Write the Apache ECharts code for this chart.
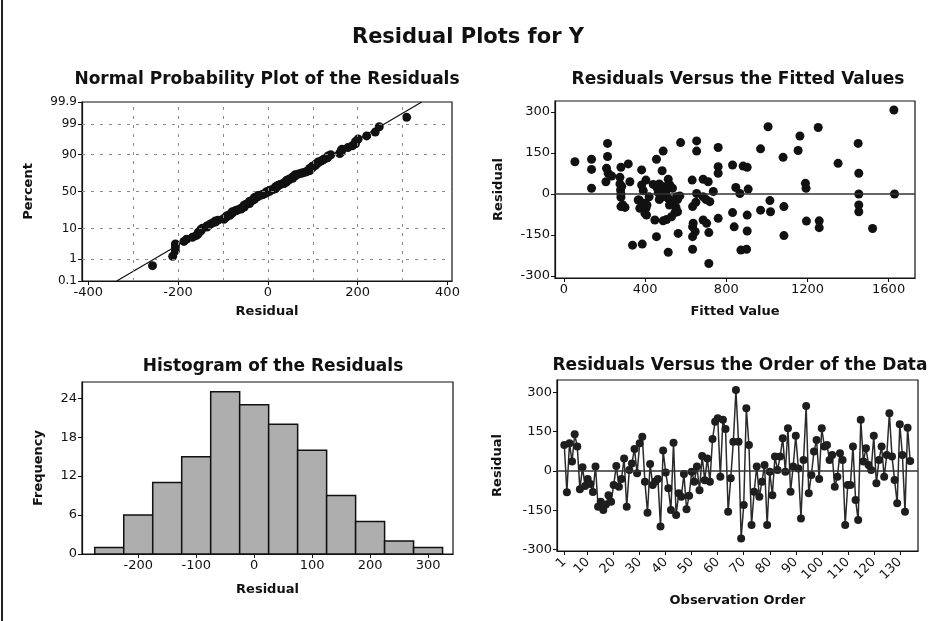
<!DOCTYPE html>
<html>
<head>
<meta charset="utf-8">
<script src="https://cdn.jsdelivr.net/npm/echarts@6/dist/echarts.min.js"></script>
<style>
html,body{margin:0;padding:0;background:#fff;}
#chart{width:928px;height:621px;}
</style>
</head>
<body>
<div id="chart"></div>
<script>
// ---------------- DATA ----------------
const orderResiduals = [
  99, -81, 106, 36, 140, 93, -70, 14, -57, -30,
  -50, -80, 17, -136, -117, -149, -128, -92, -117, -53,
  19, -60, -30, 48, -136, 4, 29, 84, -9, 106,
  131, -41, -159, 27, -53, -40, -30, -212, 78, -6,
  -66, -149, 108, -168, -85, -98, -11, -146, -94, -3,
  -41, 17, -73, 57, -35, 48, -41, 122, 188, 201,
  -22, 195, 160, -155, -28, 112, 309, 112, -257, -130,
  239, 99, -206, -79, 17, -98, -41, 23, -206, -3,
  -92, 55, 4, 55, 125, -3, 163, -79, 17, 134,
  10, -181, 42, 248, -85, -15, 74, 118, -30, 163,
  93, 99, 42, 61, -60, -22, 68, 42, -206, -53,
  -53, 93, -111, -187, 195, 36, 87, 23, 4, 134,
  -47, 42, 93, -22, 61, 220, 55, -34, -123, 178,
  61, -155, 165, 38
];
const fittedValues = [
  54,136,136,136,215,215,210,218,207,235,
  281,317,325,276,276,279,281,281,301,290,
  338,383,404,383,391,371,396,404,407,386,
  456,489,484,514,470,460,473,493,465,506,
  522,535,486,514,555,571,539,552,547,530,
  506,489,560,456,514,563,575,654,654,632,
  686,711,654,686,719,736,634,637,634,647,
  634,634,686,703,714,714,760,760,760,760,
  831,847,831,839,867,872,883,903,908,903,
  903,900,969,969,1006,1015,1018,1080,1084,1084,
  1154,1163,1190,1193,1195,1253,1258,1258,1351,1450,
  1453,1453,1453,1453,1521,1626,1629,
  448,366,374,399,281,285,470,500,520,560,420,440,650,700,409
];
const fittedResiduals = [
  118,127,90,21,185,137,94,76,45,66,
  98,110,45,61,37,15,-12,-46,-49,-40,
  -187,88,51,33,12,-22,-34,-52,-77,-183,
  127,157,85,54,37,21,15,27,5,15,
  33,21,-10,-16,-10,-7,-28,-49,-68,-83,
  -93,-98,-65,-156,-213,-144,188,194,157,51,
  54,45,2,-10,-28,9,-46,-107,-120,-138,
  -156,-202,-95,-107,-141,-254,170,100,76,-89,
  106,24,-68,-120,2,-205,102,98,18,-77,
  -135,-202,165,-59,246,-24,-65,134,-46,-152,
  159,212,39,21,-99,243,-98,-123,112,185,
  76,0,-40,-65,-126,307,0,
  -95,-22,-52,-71,0,28,-20,0,-40,-20,-10,35,-30,-20,-40
];
const binCenters = [-250, -200, -150, -100, -50, 0, 50, 100, 150, 200, 250, 300];
const binCounts  = [1, 6, 11, 15, 25, 23, 20, 16, 9, 5, 2, 1];
const percentTicks = [0.1, 1, 10, 50, 90, 99, 99.9];
const percentGridLines = [1, 10, 50, 90, 99];
const npResidTicks = [-400, -200, 0, 200, 400];
const npResidGridLines = [-300, -200, -100, 0, 100, 200, 300];
const fittedTicks = [0, 400, 800, 1200, 1600];
const residTicks = [-300, -150, 0, 150, 300];
const histResidTicks = [-200, -100, 0, 100, 200, 300];
const freqTicks = [0, 6, 12, 18, 24];
const orderTicks = [1, 10, 20, 30, 40, 50, 60, 70, 80, 90, 100, 110, 120, 130];

// ---------------- HELPERS ----------------
function invNorm(p) {
  const a=[-3.969683028665376e+01,2.209460984245205e+02,-2.759285104469687e+02,1.383577518672690e+02,-3.066479806614716e+01,2.506628277459239e+00];
  const b=[-5.447609879822406e+01,1.615858368580409e+02,-1.556989798598866e+02,6.680131188771972e+01,-1.328068155288572e+01];
  const c=[-7.784894002430293e-03,-3.223964580411365e-01,-2.400758277161838e+00,-2.549732539343734e+00,4.374664141464968e+00,2.938163982698783e+00];
  const d=[7.784695709041462e-03,3.224671290700398e-01,2.445134137142996e+00,3.754408661907416e+00];
  const pl=0.02425, ph=1-pl; let q,r;
  if(p<pl){q=Math.sqrt(-2*Math.log(p));return (((((c[0]*q+c[1])*q+c[2])*q+c[3])*q+c[4])*q+c[5])/((((d[0]*q+d[1])*q+d[2])*q+d[3])*q+1);}
  if(p<=ph){q=p-0.5;r=q*q;return (((((a[0]*r+a[1])*r+a[2])*r+a[3])*r+a[4])*r+a[5])*q/(((((b[0]*r+b[1])*r+b[2])*r+b[3])*r+b[4])*r+1);}
  q=Math.sqrt(-2*Math.log(1-p));return -(((((c[0]*q+c[1])*q+c[2])*q+c[3])*q+c[4])*q+c[5])/((((d[0]*q+d[1])*q+d[2])*q+d[3])*q+1);
}
const n = orderResiduals.length;
const sorted = orderResiduals.slice().sort((x,y)=>x-y);
const npPoints = sorted.map((r,i)=>[r, invNorm((i+1-0.3)/(n+0.4))]);
const mean = orderResiduals.reduce((s,v)=>s+v,0)/n;
const sd = Math.sqrt(orderResiduals.reduce((s,v)=>s+(v-mean)*(v-mean),0)/(n-1));
const zMin = invNorm(percentTicks[0]/100), zMax = invNorm(percentTicks[percentTicks.length-1]/100);
const fitLine = [[mean+sd*zMin, zMin],[mean+sd*zMax, zMax]];
const zTicks = percentTicks.map(p=>invNorm(p/100));
const binWidth = binCenters[1]-binCenters[0];

// ---------------- STYLE ----------------
const FONT = 'Tahoma, "DejaVu Sans", Verdana, sans-serif';
const INK = '#111';
const plain = v => String(v);
const tickLabel = {color: INK, fontFamily: FONT, fontSize: 13, margin: 5, formatter: plain};
const axisName = {color: INK, fontFamily: FONT, fontSize: 13, fontWeight: 'bold'};
const axisLine = {show: true, onZero: false, lineStyle: {color: INK, width: 1.2}};
const axisTick = (vals)=>({show: true, length: 4, customValues: vals, lineStyle: {color: INK}});
const gridBase = {show: true, borderColor: INK, borderWidth: 1.2, backgroundColor: 'transparent'};
const zeroLine = {silent: true, symbol: ['none','none'], label: {show:false},
  lineStyle: {color: '#333', width: 1.5, type: 'solid'}, data: [{yAxis: 0}], animation: false};

const chart = echarts.init(document.getElementById('chart'), null, {renderer: 'canvas'});
const option = {
  animation: false,
  backgroundColor: '#fff',
  textStyle: {fontFamily: FONT},
  title: [
    {text: 'Residual Plots for Y', left: 463, top: 22, textAlign: 'center',
     textStyle: {fontFamily: FONT, fontSize: 21, fontWeight: 'bold', color: INK}},
    {text: 'Normal Probability Plot of the Residuals', left: 262, top: 66, textAlign: 'center',
     textStyle: {fontFamily: FONT, fontSize: 17, fontWeight: 'bold', color: INK}},
    {text: 'Residuals Versus the Fitted Values', left: 733, top: 66, textAlign: 'center',
     textStyle: {fontFamily: FONT, fontSize: 17, fontWeight: 'bold', color: INK}},
    {text: 'Histogram of the Residuals', left: 268, top: 353, textAlign: 'center',
     textStyle: {fontFamily: FONT, fontSize: 17, fontWeight: 'bold', color: INK}},
    {text: 'Residuals Versus the Order of the Data', left: 735, top: 352, textAlign: 'center',
     textStyle: {fontFamily: FONT, fontSize: 17, fontWeight: 'bold', color: INK}}
  ],
  grid: [
    Object.assign({left: 82, top: 102, width: 370, height: 179}, gridBase),
    Object.assign({left: 555, top: 101, width: 360, height: 177}, gridBase),
    Object.assign({left: 82, top: 382, width: 371, height: 172}, gridBase),
    Object.assign({left: 557, top: 380, width: 361, height: 171}, gridBase)
  ],
  xAxis: [
    {gridIndex: 0, type: 'value', min: -414, max: 410, name: 'Residual', nameLocation: 'middle', nameGap: 24,
     nameTextStyle: axisName, axisLine: axisLine, axisTick: axisTick(npResidTicks),
     axisLabel: Object.assign({customValues: npResidTicks}, tickLabel), splitLine: {show: false}},
    {gridIndex: 1, type: 'value', min: -44, max: 1730, name: 'Fitted Value', nameLocation: 'middle', nameGap: 27,
     nameTextStyle: axisName, axisLine: axisLine, axisTick: axisTick(fittedTicks),
     axisLabel: Object.assign({customValues: fittedTicks}, tickLabel), splitLine: {show: false}},
    {gridIndex: 2, type: 'value', min: -297, max: 343, name: 'Residual', nameLocation: 'middle', nameGap: 29,
     nameTextStyle: axisName, axisLine: axisLine, axisTick: axisTick(histResidTicks),
     axisLabel: Object.assign({customValues: histResidTicks}, tickLabel), splitLine: {show: false}},
    {gridIndex: 3, type: 'value', min: -1.8, max: 137, name: 'Observation Order', nameLocation: 'middle', nameGap: 43,
     nameTextStyle: axisName, axisLine: axisLine, axisTick: axisTick(orderTicks),
     axisLabel: Object.assign({}, tickLabel, {customValues: orderTicks, rotate: 45, fontSize: 13, margin: 9,
       overflow: 'none', hideOverlap: false}), splitLine: {show: false}}
  ],
  yAxis: [
    {gridIndex: 0, type: 'value', min: zMin, max: zMax, name: 'Percent', nameLocation: 'middle', nameGap: 47,
     nameTextStyle: axisName, axisLine: axisLine, axisTick: axisTick(zTicks),
     axisLabel: Object.assign({}, tickLabel, {customValues: zTicks, fontSize: 12,
       formatter: function(v){ for (let i=0;i<zTicks.length;i++){ if (Math.abs(zTicks[i]-v)<1e-6) return String(percentTicks[i]); } return ''; }
     }), splitLine: {show: false}},
    {gridIndex: 1, type: 'value', min: -307, max: 340, name: 'Residual', nameLocation: 'middle', nameGap: 50,
     nameTextStyle: axisName, axisLine: axisLine, axisTick: axisTick(residTicks),
     axisLabel: Object.assign({customValues: residTicks}, tickLabel), splitLine: {show: false}},
    {gridIndex: 2, type: 'value', min: 0, max: 26.5, name: 'Frequency', nameLocation: 'middle', nameGap: 37,
     nameTextStyle: axisName, axisLine: axisLine, axisTick: axisTick(freqTicks),
     axisLabel: Object.assign({customValues: freqTicks}, tickLabel), splitLine: {show: false}},
    {gridIndex: 3, type: 'value', min: -305, max: 347, name: 'Residual', nameLocation: 'middle', nameGap: 53,
     nameTextStyle: axisName, axisLine: axisLine, axisTick: axisTick(residTicks),
     axisLabel: Object.assign({customValues: residTicks}, tickLabel), splitLine: {show: false}}
  ],
  series: [
    {type: 'line', xAxisIndex: 0, yAxisIndex: 0, data: fitLine, symbol: 'none', z: 2,
     lineStyle: {color: INK, width: 1.2}, clip: true,
     markLine: {silent: true, symbol: ['none','none'], label: {show: false}, animation: false,
       lineStyle: {color: '#8a8a8a', width: 1, type: [3, 6]},
       data: npResidGridLines.map(v=>({xAxis: v})).concat(percentGridLines.map(p=>({yAxis: invNorm(p/100)})))}},
    {type: 'scatter', xAxisIndex: 0, yAxisIndex: 0, data: npPoints, symbolSize: 9, z: 3,
     itemStyle: {color: INK, opacity: 1}},
    {type: 'scatter', xAxisIndex: 1, yAxisIndex: 1, z: 3, symbolSize: 9,
     data: fittedValues.map((f,i)=>[f, fittedResiduals[i]]), itemStyle: {color: INK, opacity: 1},
     markLine: zeroLine},
    {type: 'custom', xAxisIndex: 2, yAxisIndex: 2,
     data: binCenters.map((c,i)=>[c, binCounts[i]]),
     encode: {x: 0, y: 1},
     renderItem: function(params, api){
       const c = api.value(0), h = api.value(1);
       const p1 = api.coord([c - binWidth/2, h]);
       const p2 = api.coord([c + binWidth/2, 0]);
       return {type: 'rect', shape: {x: p1[0], y: p1[1], width: p2[0]-p1[0], height: p2[1]-p1[1]},
         style: {fill: '#aeaeae', stroke: INK, lineWidth: 1.5}};
     }},
    {type: 'line', xAxisIndex: 3, yAxisIndex: 3, z: 3,
     data: orderResiduals.map((v,i)=>[i+1, v]),
     symbol: 'circle', symbolSize: 8, showAllSymbol: true,
     lineStyle: {color: '#2a2a2a', width: 1.5}, itemStyle: {color: '#1e1e1e'},
     markLine: zeroLine}
  ],
  graphic: [
    {type: 'line', shape: {x1: 2, y1: 0, x2: 2, y2: 621}, style: {stroke: '#222', lineWidth: 2}, silent: true}
  ]
};
chart.setOption(option);
</script>
</body>
</html>
